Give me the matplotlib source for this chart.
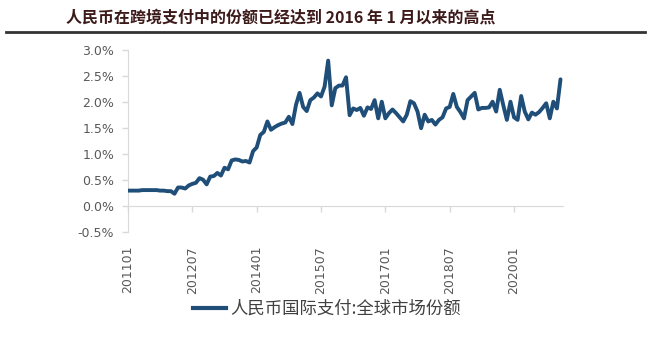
import matplotlib
matplotlib.use("Agg")
import matplotlib.pyplot as plt
from matplotlib.lines import Line2D

plt.rcParams['font.family'] = ['Noto Sans CJK SC', 'DejaVu Sans']

title = "人民币在跨境支付中的份额已经达到 2016 年 1 月以来的高点"
series_name = "人民币国际支付:全球市场份额"

tick_labels = ["201101", "201207", "201401", "201507", "201701", "201807", "202001"]
tick_months = [0, 18, 36, 54, 72, 90, 108]

# monthly share (%), 2011-01 .. 2021-02
share = [
    0.29, 0.29, 0.29, 0.29, 0.30, 0.30, 0.30, 0.30, 0.30, 0.29, 0.29, 0.28,
    0.28, 0.23, 0.35, 0.35, 0.33, 0.39, 0.42, 0.44, 0.53, 0.50, 0.41, 0.56,
    0.57, 0.63, 0.58, 0.73, 0.70, 0.87, 0.89, 0.88, 0.85, 0.86, 0.83, 1.05,
    1.12, 1.36, 1.42, 1.62, 1.46, 1.51, 1.55, 1.58, 1.60, 1.71, 1.57, 1.94,
    2.17, 1.90, 1.82, 2.03, 2.08, 2.16, 2.10, 2.29, 2.79, 1.93, 2.26, 2.31,
    2.31, 2.47, 1.74, 1.87, 1.84, 1.88, 1.73, 1.89, 1.86, 2.03, 1.68, 2.00,
    1.68, 1.78, 1.85, 1.78, 1.70, 1.62, 1.75, 2.01, 1.97, 1.81, 1.49, 1.75,
    1.62, 1.65, 1.56, 1.65, 1.70, 1.87, 1.90, 2.15, 1.90, 1.80, 1.68, 2.03,
    2.10, 2.17, 1.85, 1.88, 1.88, 1.89, 2.00, 1.81, 2.23, 1.93, 1.65, 2.00,
    1.70, 1.65, 2.11, 1.81, 1.66, 1.79, 1.75, 1.80, 1.88, 1.97, 1.68, 2.00,
    1.87, 2.43,
]
y_ticks = [-0.5, 0.0, 0.5, 1.0, 1.5, 2.0, 2.5, 3.0]

line_color = "#1F4E79"
text_gray = "#595959"
axis_gray = "#D9D9D9"

fig = plt.figure(figsize=(6.5, 3.57), dpi=100)
ax = fig.add_axes([128 / 650, 1 - 231.7 / 357, (563 - 128) / 650, (231.7 - 49.7) / 357])

ax.spines['top'].set_visible(False)
ax.spines['right'].set_visible(False)
ax.spines['left'].set_color(axis_gray)
ax.spines['bottom'].set_position(('data', 0))
ax.spines['bottom'].set_color(axis_gray)
ax.spines['bottom'].set_zorder(0)

months = list(range(len(share)))
ax.plot(months, share, color=line_color, lw=2.8, solid_joinstyle='round',
        solid_capstyle='round', zorder=3)

ax.set_xlim(0, 121.7)
ax.set_ylim(-0.5, 3.0)
ax.set_yticks(y_ticks)
ax.set_yticklabels([f"{v:.1f}%" for v in y_ticks], family=['DejaVu Sans'])
ax.set_xticks(tick_months)
ax.set_xticklabels(tick_labels, family=['DejaVu Sans'])

ax.tick_params(axis='y', colors=axis_gray, labelcolor=text_gray, labelsize=9,
               length=4, width=1, pad=6)
ax.tick_params(axis='x', colors=axis_gray, labelcolor=text_gray, labelsize=9,
               length=4, width=1, pad=25, labelrotation=90)

fig.text(66 / 650, 1 - 18 / 357, title, fontsize=11.5, fontweight='bold',
         color="#3d1a1a", va='center', ha='left')
fig.add_artist(Line2D([6 / 650, 645 / 650], [1 - 31.5 / 357, 1 - 31.5 / 357],
                      transform=fig.transFigure, color="#333333", lw=2))

h = Line2D([], [], color=line_color, lw=3)
fig.legend([h], [series_name], loc='center', bbox_to_anchor=(327 / 650, 1 - 309 / 357),
           frameon=False, fontsize=12.5, labelcolor="#404040", handlelength=1.9,
           handletextpad=0.2)

fig.savefig("out.png", dpi=100)
